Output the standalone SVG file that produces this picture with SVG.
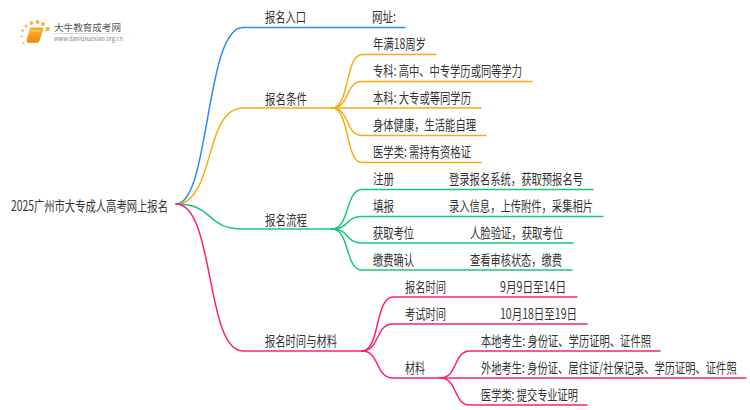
<svg xmlns="http://www.w3.org/2000/svg" width="750" height="410" viewBox="0 0 750 410">
<defs><linearGradient id="fade"><stop offset="0" stop-color="#ccc" stop-opacity="0"/><stop offset=".3" stop-color="#ccc"/><stop offset="1" stop-color="#ccc" stop-opacity="0"/></linearGradient>
<linearGradient id="book" x1="0" y1="0" x2="0" y2="1"><stop offset="0" stop-color="#fbb52e"/><stop offset="1" stop-color="#ef8a0c"/></linearGradient></defs>
<style>
text{font-family:"Noto Sans CJK SC","Noto Sans",sans-serif;font-size:14px;fill:#333}
path{fill:none;stroke-width:1.5;stroke-linecap:round}
.b{stroke:#2a8cf5}.o{stroke:#fbab12}.g{stroke:#1cc67a}.p{stroke:#fb1f7c}
</style>
<rect width="750" height="410" fill="#fff"/>
<g id="logo">
<g fill="#fbb53a"><circle cx="47.500" cy="29" r="2.300"/><circle cx="43" cy="24" r="2"/><circle cx="37.500" cy="22" r="2"/><circle cx="31.500" cy="23" r="1.900"/><circle cx="26" cy="26" r="1.500"/><circle cx="22.500" cy="30.500" r="1.300"/><circle cx="21.500" cy="36.500" r="1.100"/><circle cx="23.500" cy="43" r="1"/></g>
<path d="M31 28H43L39 41Q38.500 42.500 37 42.500H28Q26.500 42.500 27 40Z" style="fill:url(#book);stroke:#f29310;stroke-width:.8"/>
<path d="M31 31H40" style="stroke:#fde3a8;stroke-width:.8"/>
<rect x="45" y="33" width="90" height="1" fill="url(#fade)"/>
<text x="54" y="31" textLength="67" lengthAdjust="spacingAndGlyphs" style="font-size:9.500px;fill:#555">大牛教育成考网</text>
<text x="54" y="41" textLength="69" lengthAdjust="spacingAndGlyphs" style="font-size:6px;fill:#888">www.daniuxuexiao.org.cn</text>
</g>
<g id="connectors">
<path class="b" d="M176 204C210 204 205 27.500 243 27.500H405"/>
<path class="o" d="M180 204C215 195 205 108 243 108H332"/>
<path class="g" d="M176 204C215 204 205 229 243 229H332"/>
<path class="p" d="M176 204C215 204 205 351 243 351H362"/>
<path class="o" d="M332 108C350 108 345 54.500 362 54.500H436"/>
<path class="o" d="M332 108C350 108 345 81.500 362 81.500H532"/>
<path class="o" d="M332 108H481"/>
<path class="o" d="M332 108C350 108 345 135.500 362 135.500H486"/>
<path class="o" d="M332 108C350 108 345 162.500 362 162.500H481"/>
<path class="g" d="M332 229C350 229 345 189.500 362 189.500H593"/>
<path class="g" d="M332 229C350 229 345 216.500 362 216.500H603"/>
<path class="g" d="M332 229C350 229 345 243 362 243H573"/>
<path class="g" d="M332 229C350 229 345 270 362 270H572"/>
<path class="p" d="M362 351C380 351 375 297 393 297H577"/>
<path class="p" d="M362 351C380 351 375 324 393 324H587"/>
<path class="p" d="M362 351C380 351 375 378 393 378H440"/>
<path class="p" d="M440 378C458 378 453 351 470 351H660"/>
<path class="p" d="M440 378H746"/>
<path class="p" d="M440 378C458 378 453 405 470 405H587"/>
</g>
<g id="root"><text x="11" y="211" textLength="157" lengthAdjust="spacingAndGlyphs">2025广州市大专成人高考网上报名</text></g>
<g id="n1"><text x="265" y="22" textLength="41" lengthAdjust="spacingAndGlyphs">报名入口</text></g>
<g id="n1a"><text x="372" y="22" textLength="24" lengthAdjust="spacingAndGlyphs">网址:</text></g>
<g id="n2"><text x="265" y="104" textLength="42" lengthAdjust="spacingAndGlyphs">报名条件</text></g>
<g id="n2a"><text x="373" y="49" textLength="53" lengthAdjust="spacingAndGlyphs">年满18周岁</text></g>
<g id="n2b"><text x="373" y="76" textLength="149" lengthAdjust="spacingAndGlyphs">专科: 高中、中专学历或同等学力</text></g>
<g id="n2c"><text x="373" y="103" textLength="98" lengthAdjust="spacingAndGlyphs">本科: 大专或等同学历</text></g>
<g id="n2d"><text x="373" y="130" textLength="103" lengthAdjust="spacingAndGlyphs">身体健康，生活能自理</text></g>
<g id="n2e"><text x="373" y="157" textLength="98" lengthAdjust="spacingAndGlyphs">医学类: 需持有资格证</text></g>
<g id="n3"><text x="265" y="225" textLength="42" lengthAdjust="spacingAndGlyphs">报名流程</text></g>
<g id="n3a"><text x="373" y="184" textLength="21" lengthAdjust="spacingAndGlyphs">注册</text><text x="449" y="184" textLength="134" lengthAdjust="spacingAndGlyphs">登录报名系统，获取预报名号</text></g>
<g id="n3b"><text x="373" y="211" textLength="21" lengthAdjust="spacingAndGlyphs">填报</text><text x="449" y="211" textLength="144" lengthAdjust="spacingAndGlyphs">录入信息，上传附件，采集相片</text></g>
<g id="n3c"><text x="373" y="238" textLength="41" lengthAdjust="spacingAndGlyphs">获取考位</text><text x="470" y="238" textLength="93" lengthAdjust="spacingAndGlyphs">人脸验证，获取考位</text></g>
<g id="n3d"><text x="373" y="265" textLength="41" lengthAdjust="spacingAndGlyphs">缴费确认</text><text x="470" y="265" textLength="92" lengthAdjust="spacingAndGlyphs">查看审核状态，缴费</text></g>
<g id="n4"><text x="265" y="346" textLength="72" lengthAdjust="spacingAndGlyphs">报名时间与材料</text></g>
<g id="n4a"><text x="405" y="292" textLength="41" lengthAdjust="spacingAndGlyphs">报名时间</text><text x="500" y="292" textLength="66" lengthAdjust="spacingAndGlyphs">9月9日至14日</text></g>
<g id="n4b"><text x="405" y="319" textLength="41" lengthAdjust="spacingAndGlyphs">考试时间</text><text x="500" y="319" textLength="77" lengthAdjust="spacingAndGlyphs">10月18日至19日</text></g>
<g id="n4c"><text x="405" y="373" textLength="20" lengthAdjust="spacingAndGlyphs">材料</text></g>
<g id="n4c1"><text x="481" y="346" textLength="170" lengthAdjust="spacingAndGlyphs">本地考生: 身份证、学历证明、证件照</text></g>
<g id="n4c2"><text transform="translate(481 373) scale(.7346 1)">外地考生: 身份证、居住证/社保记录、学历证明、证件照</text></g>
<g id="n4c3"><text x="481" y="400" textLength="97" lengthAdjust="spacingAndGlyphs">医学类: 提交专业证明</text></g>
</svg>
